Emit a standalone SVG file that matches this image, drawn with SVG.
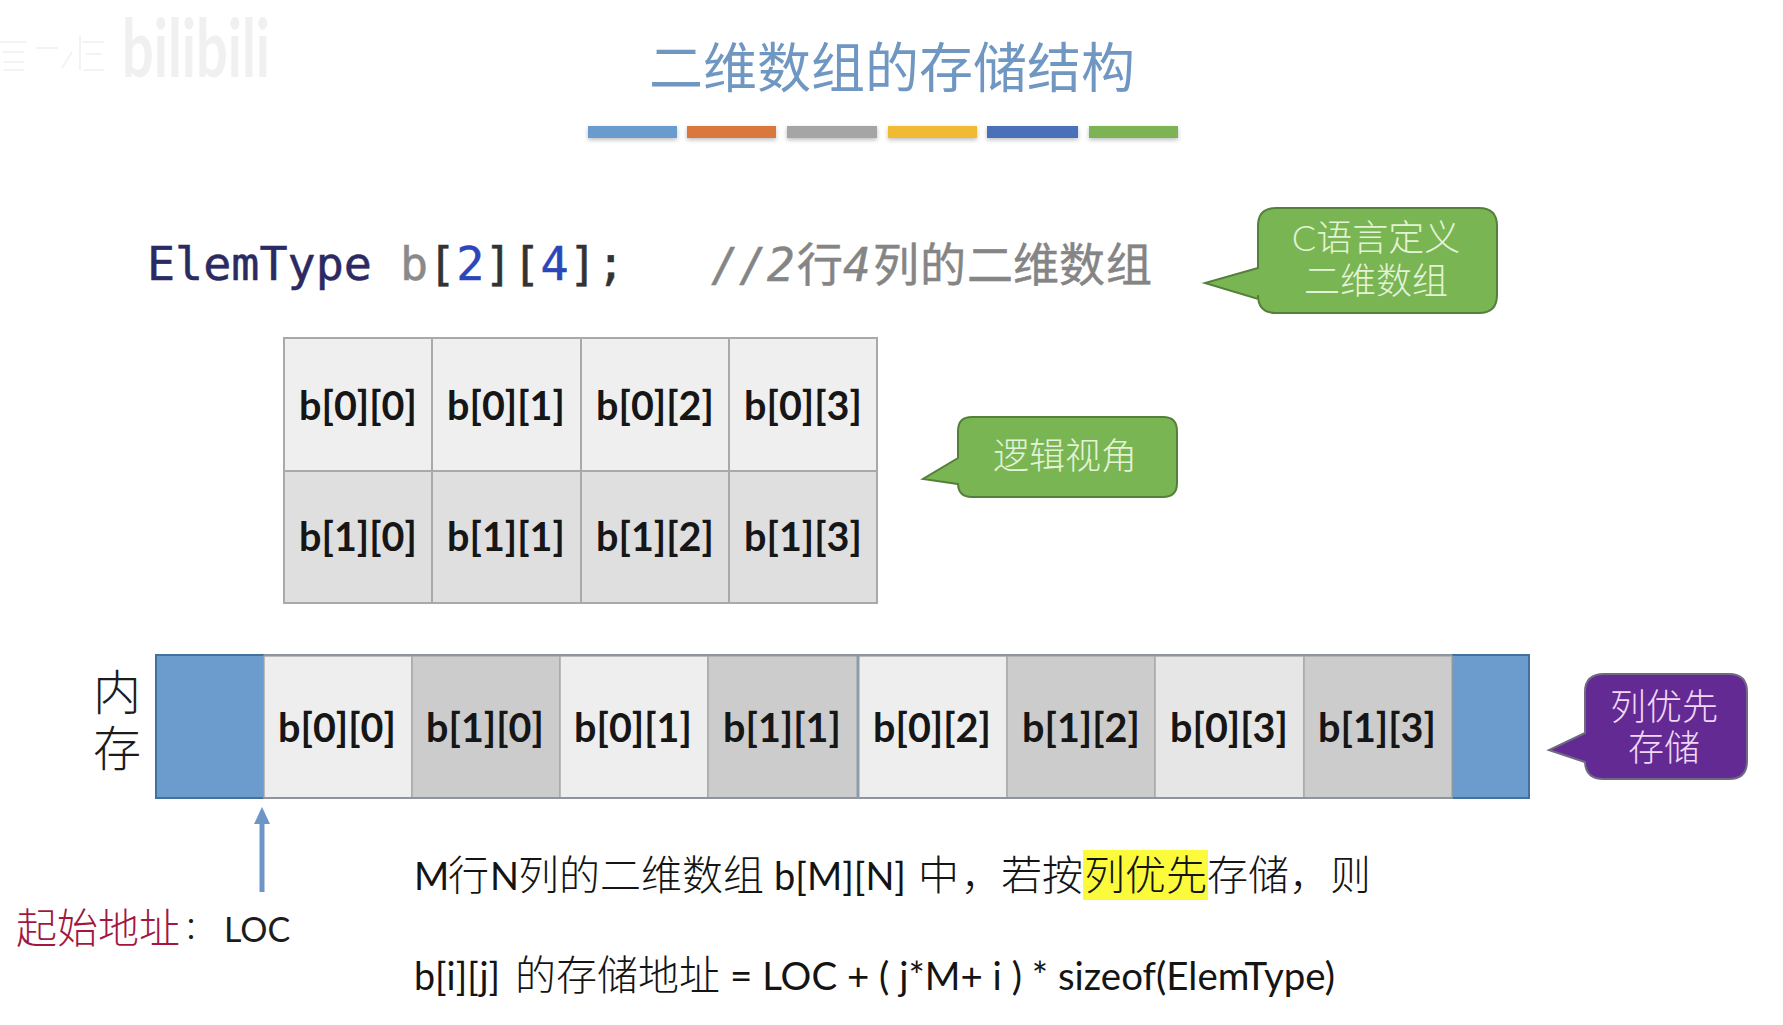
<svg xmlns="http://www.w3.org/2000/svg" width="1783" height="1025" viewBox="0 0 1783 1025">
<style>
text{font-family:"Lato","Noto Sans CJK SC",sans-serif}
.cell{font-weight:700;font-size:39.5px;fill:#161616;text-anchor:middle}
.lt{fill:#efefef;stroke:#a9a9a9;stroke-width:2}
.dk{fill:#dfdfe0;stroke:#a9a9a9;stroke-width:2}
.m1{fill:#eeeeee;stroke:#a9a9a9;stroke-width:1.5}
.m2{fill:#cdcccc;stroke:#a9a9a9;stroke-width:1.5}
.blue{fill:#6c9bcd;stroke:#41719c;stroke-width:2}
.green{fill:#7ab554;stroke:#54803c;stroke-width:2}
.bt{fill:#e3f3d6;font-size:36px;text-anchor:middle;font-weight:300}
.cj{font-size:41px;fill:#141414;font-weight:300;font-family:"Noto Sans CJK SC",sans-serif}
.la{font-size:38px;fill:#141414;font-weight:400;font-family:"Lato",sans-serif}
.bar{filter:url(#s)}
.mono{font-family:"DejaVu Sans Mono",monospace;font-size:46.7px;stroke-width:.5}
.cm{fill:#858585;stroke:#858585;stroke-width:.5}
</style>
<defs>
<filter id="s" x="-5%" y="-30%" width="110%" height="190%"><feDropShadow dx="0" dy="2" stdDeviation="2" flood-color="#000" flood-opacity="0.25"/></filter>
</defs>
<rect width="1783" height="1025" fill="#ffffff"/>
<g id="watermark">
<text x="122" y="77" font-size="80" font-weight="700" fill="#f0f0f0" textLength="148" lengthAdjust="spacingAndGlyphs">bilibili</text>
<path d="M0 42H26M2 52H24M4 62H24M4 70H24M36 48H58M72 52L62 68M80 36V70M82 42H104M86 54H102M84 70H104" fill="none" stroke="#f3f3f3" stroke-width="2"/>
</g>
<text id="title" x="892" y="88" font-size="54" text-anchor="middle" fill="#7097c2" style="font-weight:400">二维数组的存储结构</text>
<g id="title-bars">
<rect class="bar" x="588" y="126" width="89" height="12" fill="#6b9bcf"/>
<rect class="bar" x="687" y="126" width="89" height="12" fill="#d9773c"/>
<rect class="bar" x="787" y="126" width="90" height="12" fill="#a5a5a5"/>
<rect class="bar" x="888" y="126" width="89" height="12" fill="#f0bb30"/>
<rect class="bar" x="987" y="126" width="91" height="12" fill="#4a70b8"/>
<rect class="bar" x="1089" y="126" width="89" height="12" fill="#7cb453"/>
</g>
<g id="code">
<text class="mono" x="147" y="280"><tspan fill="#2b2a63" stroke="#2b2a63">ElemType </tspan><tspan fill="#8a8a8a" stroke="#8a8a8a">b</tspan><tspan fill="#333" stroke="#333">[</tspan><tspan fill="#2b46b8" stroke="#2b46b8">2</tspan><tspan fill="#333" stroke="#333">][</tspan><tspan fill="#2b46b8" stroke="#2b46b8">4</tspan><tspan fill="#333" stroke="#333">];</tspan></text>
<text class="cm" y="281" font-size="46" font-style="italic" x="711 739 767" style="font-family:'DejaVu Sans Mono',monospace">//2</text>
<text class="cm" y="281" font-size="46" x="797" style="font-family:'Noto Sans CJK SC',sans-serif">行</text>
<text class="cm" y="281" font-size="46" font-style="italic" x="843" style="font-family:'DejaVu Sans Mono',monospace">4</text>
<text class="cm" y="281" font-size="46" x="873 920 967 1013 1059 1106" style="font-family:'Noto Sans CJK SC',sans-serif">列的二维数组</text>
</g>
<g id="logical-array">
<rect class="lt" x="284" y="338" width="148" height="133"/><rect class="lt" x="432" y="338" width="149" height="133"/><rect class="lt" x="581" y="338" width="148" height="133"/><rect class="lt" x="729" y="338" width="148" height="133"/>
<rect class="dk" x="284" y="471" width="148" height="132"/><rect class="dk" x="432" y="471" width="149" height="132"/><rect class="dk" x="581" y="471" width="148" height="132"/><rect class="dk" x="729" y="471" width="148" height="132"/>
<text class="cell" x="358" y="420">b[0][0]</text><text class="cell" x="506" y="420">b[0][1]</text><text class="cell" x="655" y="420">b[0][2]</text><text class="cell" x="803" y="420">b[0][3]</text>
<text class="cell" x="358" y="551">b[1][0]</text><text class="cell" x="506" y="551">b[1][1]</text><text class="cell" x="655" y="551">b[1][2]</text><text class="cell" x="803" y="551">b[1][3]</text>
</g>
<g id="callout-c">
<path class="green" d="M1276 208H1479Q1497 208 1497 226V295Q1497 313 1479 313H1276Q1258 313 1258 295V299L1205 283L1258 268V226Q1258 208 1276 208Z"/>
<text class="bt" x="1376" y="251">C语言定义</text><text class="bt" x="1376" y="294">二维数组</text>
</g>
<g id="callout-logic">
<path class="green" d="M972 417H1163Q1177 417 1177 431V483Q1177 497 1163 497H972Q958 497 958 483V484L923 479L958 458V431Q958 417 972 417Z"/>
<text class="bt" x="1065" y="469">逻辑视角</text>
</g>
<g id="memory">
<text x="117" y="710" font-size="48" text-anchor="middle" fill="#1c1c1c" font-weight="300">内</text>
<text x="117" y="766" font-size="48" text-anchor="middle" fill="#1c1c1c" font-weight="300">存</text>
<rect class="blue" x="156" y="655" width="108" height="143"/>
<rect class="blue" x="1452" y="655" width="77" height="143"/>
<rect class="m1" x="264" y="656" width="148" height="142"/><rect class="m2" x="412" y="656" width="148" height="142"/><rect class="m1" x="560" y="656" width="148" height="142"/><rect class="m2" x="708" y="656" width="150" height="142"/><rect class="m1" x="858" y="656" width="149" height="142"/><rect class="m2" x="1007" y="656" width="148" height="142"/><rect class="m1" x="1155" y="656" width="149" height="142" style="fill:#e6e6e6"/><rect class="m2" x="1304" y="656" width="148" height="142"/>
<path d="M264 655H1452M264 798H1452" stroke="#8f959c" stroke-width="2" fill="none"/>
<path d="M858 656V798" stroke="#8d9bab" stroke-width="3" fill="none"/>
<text class="cell" x="337" y="742">b[0][0]</text><text class="cell" x="485" y="742">b[1][0]</text><text class="cell" x="633" y="742">b[0][1]</text><text class="cell" x="782" y="742">b[1][1]</text><text class="cell" x="932" y="742">b[0][2]</text><text class="cell" x="1081" y="742">b[1][2]</text><text class="cell" x="1229" y="742">b[0][3]</text><text class="cell" x="1377" y="742">b[1][3]</text>
</g>
<g id="callout-col">
<path d="M1604 674H1729Q1747 674 1747 692V761Q1747 779 1729 779H1604Q1585 779 1585 761V762L1549 750L1585 733V692Q1585 674 1604 674Z" fill="#642a94" stroke="#6f6a80" stroke-width="2"/>
<text x="1664" y="720" font-size="36" text-anchor="middle" fill="#f0d8f6" font-weight="300">列优先</text><text x="1664" y="761" font-size="36" text-anchor="middle" fill="#f0d8f6" font-weight="300">存储</text>
</g>
<g id="connectors">
<line x1="262" y1="892" x2="262" y2="823" stroke="#6d96c6" stroke-width="5"/>
<path d="M254 824L262 807L270 824Z" fill="#6d96c6"/>
</g>
<g id="start-label">
<text x="16 57 98 139" y="943" font-size="41" fill="#a3173f" font-weight="300">起始地址</text>
<text x="175" y="941" font-size="32" fill="#1c1c1c" font-weight="300" style="font-family:'Noto Sans CJK TC',sans-serif">：</text>
<text x="224" y="942" font-size="34" fill="#1c1c1c">LOC</text>
</g>
<g id="formula">
<rect x="1083" y="850" width="125" height="50" fill="#fbfb3c"/>
<text class="la" x="414" y="890">M</text><text class="cj" x="448" y="890">行</text><text class="la" x="490" y="890">N</text>
<text class="cj" y="890" x="518 559 600 641 682 723">列的二维数组</text>
<text class="la" x="774" y="890" textLength="132" lengthAdjust="spacingAndGlyphs">b[M][N]</text>
<text class="cj" y="890" x="918 961 1001 1042 1084 1125 1166 1207 1248 1289 1330">中，若按列优先存储，则</text>
<text class="la" x="414" y="990" textLength="86" lengthAdjust="spacingAndGlyphs">b[i][j]</text>
<text class="cj" y="990" x="515 556 597 638 679">的存储地址</text>
<text class="la" x="730" y="990" textLength="605" lengthAdjust="spacingAndGlyphs">= LOC + ( j*M+ i ) * sizeof(ElemType)</text>
</g>
</svg>
